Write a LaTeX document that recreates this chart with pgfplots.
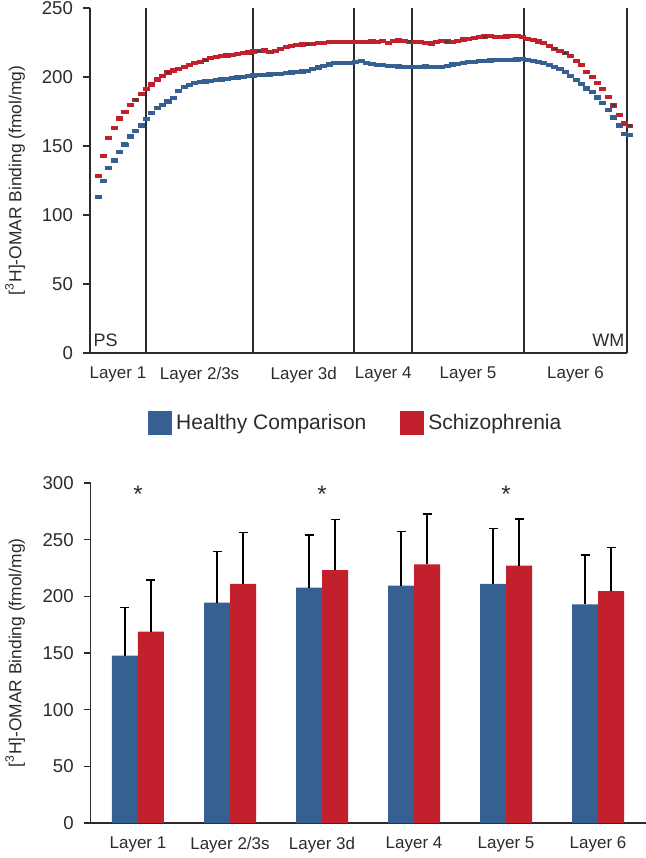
\documentclass[border=0pt]{standalone}
\usepackage{pgfplots}
\pgfplotsset{compat=1.18}
\usepackage{pgfplotstable}
\usepackage{fontspec}
\setmainfont{Liberation Sans}
\definecolor{hcblue}{HTML}{376092}
\definecolor{szred}{HTML}{C1202C}
\definecolor{txt}{HTML}{2B2B2B}

% depth profile: x = % cortical depth, hc = healthy, sz = schizophrenia
\pgfplotstableread{
x hc sz
1.5 113.3 128.5
2.5 125.0 143.0
3.5 134.0 156.0
4.5 139.5 163.0
5.5 146.0 170.0
6.5 151.0 175.0
7.5 157.0 180.0
8.5 161.0 183.5
9.5 165.0 188.0
10.5 169.8 191.3
11.5 174.0 194.7
12.5 177.7 198.2
13.5 180.0 200.8
14.5 182.3 203.3
15.5 185.0 204.8
16.5 190.0 206.0
17.5 192.8 207.4
18.5 194.1 208.7
19.5 195.9 210.0
20.5 196.4 211.0
21.5 196.8 212.2
22.5 197.2 214.0
23.5 197.8 214.8
24.5 198.3 215.3
25.5 198.8 215.6
26.5 199.3 216.0
27.5 199.8 216.5
28.5 200.2 217.2
29.5 200.7 217.8
30.5 201.1 218.5
31.5 201.4 218.8
32.5 201.7 219.3
33.5 202.0 218.0
34.5 202.3 219.0
35.5 202.5 220.5
36.5 202.9 221.8
37.5 203.3 222.8
38.5 203.7 223.3
39.5 204.1 223.6
40.5 204.7 223.9
41.5 205.6 224.2
42.5 207.0 224.5
43.5 208.3 225.0
44.5 209.2 225.5
45.5 210.0 225.6
46.5 210.4 225.6
47.5 210.4 225.6
48.5 210.4 225.6
49.5 211.0 225.6
50.5 211.6 225.6
51.5 210.5 225.6
52.5 209.5 225.8
53.5 208.8 225.5
54.5 208.5 226.0
55.5 208.2 225.0
56.5 208.0 226.3
57.5 207.6 226.6
58.5 207.4 226.0
59.5 207.2 225.6
60.5 207.2 225.6
61.5 207.5 225.6
62.5 207.7 225.0
63.5 207.6 224.4
64.5 207.5 225.3
65.5 207.5 226.3
66.5 208.3 225.8
67.5 209.1 225.4
68.5 209.7 226.3
69.5 210.2 227.3
70.5 210.7 227.8
71.5 211.1 228.3
72.5 211.4 228.8
73.5 211.7 229.4
74.5 212.0 229.7
75.5 212.3 229.2
76.5 212.3 228.8
77.5 212.3 229.5
78.5 212.5 230.0
79.5 212.8 229.8
80.5 213.0 229.0
81.5 212.5 227.8
82.5 211.9 226.8
83.5 211.0 225.8
84.5 210.2 224.5
85.5 209.0 222.6
86.5 207.3 220.6
87.5 205.6 219.0
88.5 203.9 217.2
89.5 200.8 215.2
90.5 198.1 211.6
91.5 194.8 208.5
92.5 191.8 203.9
93.5 189.2 200.2
94.5 185.3 195.9
95.5 181.3 191.3
96.5 176.0 185.7
97.5 170.6 179.5
98.5 165.0 172.7
99.5 158.5 166.4
100.5 158.0 164.7
}\profile

\begin{document}
\begin{tikzpicture}
\path[use as bounding box] (0,0) rectangle (323pt,-429pt);

% ---- top: laminar profile
\begin{axis}[
    at={(45pt,-176.5pt)}, anchor=south west,
    scale only axis, width=268.5pt, height=172.5pt,
    xmin=0, xmax=100, ymin=0, ymax=250, clip=false,
    axis x line=bottom, axis y line=left,
    axis line style={-, line width=0.6pt, txt},
    tick align=outside, major tick length=3.5pt,
    tick style={line width=0.6pt, txt},
    x tick style={draw=none},
    ytick={0,50,...,250},
    xtick={5.2,20.4,39.8,54.6,70.4,90.4},
    xticklabels={Layer 1, Layer 2/3s, Layer 3d, Layer 4, Layer 5, Layer 6},
    /pgf/number format/assume math mode=true,
    yticklabel style={font=\fontsize{9.3}{11}\selectfont, txt, xshift=-1.5pt},
    xticklabel style={font=\fontsize{8.5}{10}\selectfont, txt},
    ylabel={{[}\textsuperscript{3}H]-OMAR Binding (fmol/mg)},
    ylabel style={at={(axis description cs:-0.1397,0.5)}, anchor=center,
                  font=\fontsize{8.7}{10}\selectfont, txt},
    legend style={at={(0.497,-0.203)}, anchor=center, draw=none, fill=none,
                  legend columns=2, font=\fontsize{10.5}{12}\selectfont, text=txt,
                  /tikz/every even column/.append style={column sep=15pt}},
]
\addplot[ycomb, no marks, txt, line width=0.6pt, forget plot]
    coordinates {(10.43,250)(30.35,250)(49.16,250)(59.96,250)(80.82,250)(100,250)};
\addplot[only marks, mark=square*, hcblue, mark size=0.8pt,
         mark options={xscale=1.9, draw=none}, forget plot]
    table[x=x, y=hc] {\profile};
\addplot[only marks, mark=square*, szred, mark size=0.8pt,
         mark options={xscale=1.9, draw=none}, forget plot]
    table[x=x, y=sz] {\profile};
% open markers on healthy curve
\addplot[only marks, mark=square, mark size=0.9pt,
         mark options={xscale=1.7, fill=white, draw=hcblue, line width=0.5pt}, forget plot]
    coordinates {(3.5,134.0)(4.5,139.5)(6.5,151.0)(11.5,174.0)(20.5,196.4)(21.5,196.8)
                 (22.5,197.2)(27.5,199.8)(30.5,201.1)(33.5,202.0)(53.5,208.8)(57.5,207.6)
                 (62.5,207.7)(67.5,209.1)(75.5,212.3)(77.5,212.3)(94.5,185.3)(96.5,176.0)
                 (97.5,170.6)(100.5,158.0)};
% dark centres on schizophrenia curve
\addplot[only marks, mark=square*, black!75, mark size=0.5pt,
         mark options={xscale=1.6, draw=none}, forget plot]
    coordinates {(8.5,183.5)(14.5,203.3)(21.5,212.2)(31.5,218.8)(40.5,223.9)(59.5,225.6)
                 (66.5,225.8)(73.5,229.4)(86.5,220.6)(88.5,217.2)(97.5,179.5)(100.5,164.7)};
\node[anchor=base west, inner sep=0, font=\fontsize{9}{10}\selectfont, txt]
    at (axis cs:0.6,4.5) {PS};
\node[anchor=base east, inner sep=0, font=\fontsize{9}{10}\selectfont, txt]
    at (axis cs:99.6,4.5) {WM};
\addlegendimage{legend image code/.code={\fill[hcblue] (0pt,-5.75pt) rectangle (11.5pt,5.75pt);}}
\addlegendentry{Healthy Comparison}
\addlegendimage{legend image code/.code={\fill[szred] (0pt,-5.75pt) rectangle (11.5pt,5.75pt);}}
\addlegendentry{Schizophrenia}
\end{axis}

% ---- bottom: layer means with SD
\begin{axis}[
    at={(45.35pt,-411.5pt)}, anchor=south west,
    scale only axis, width=277.6pt, height=170pt,
    xmin=-0.514, xmax=5.52, ymin=0, ymax=300, clip=false,
    axis x line=bottom, axis y line=left,
    axis line style={-, line width=0.6pt, txt},
    tick align=outside, major tick length=3.5pt,
    tick style={line width=0.6pt, txt},
    x tick style={draw=none},
    ybar=0pt, bar width=13pt,
    ytick={0,50,...,300},
    xtick={0,...,5},
    xticklabels={Layer 1, Layer 2/3s, Layer 3d, Layer 4, Layer 5, Layer 6},
    /pgf/number format/assume math mode=true,
    yticklabel style={font=\fontsize{9.3}{11}\selectfont, txt, xshift=-1.5pt},
    xticklabel style={font=\fontsize{8.5}{10}\selectfont, txt},
    ylabel={{[}\textsuperscript{3}H]-OMAR Binding (fmol/mg)},
    ylabel style={at={(axis description cs:-0.136,0.5)}, anchor=center,
                  font=\fontsize{8.7}{10}\selectfont, txt},
    error bars/error bar style={line width=0.65pt, black},
    error bars/error mark options={rotate=90, black, line width=0.65pt, mark size=2.25pt},
]
\addplot[fill=hcblue, draw=none, error bars/.cd, y dir=plus, y explicit]
    coordinates {(0,147.6) +- (0,42.4) (1,194.4) +- (0,45.0) (2,207.6) +- (0,46.5)
                 (3,209.4) +- (0,48.0) (4,210.9) +- (0,49.1) (5,193.0) +- (0,43.5)};
\addplot[fill=szred, draw=none, error bars/.cd, y dir=plus, y explicit]
    coordinates {(0,168.8) +- (0,45.6) (1,210.9) +- (0,45.3) (2,223.2) +- (0,44.8)
                 (3,228.2) +- (0,44.4) (4,227.0) +- (0,41.2) (5,204.7) +- (0,38.6)};
\node[font=\fontsize{12}{13}\selectfont, txt] at (axis cs:0,290) {*};
\node[font=\fontsize{12}{13}\selectfont, txt] at (axis cs:2,290) {*};
\node[font=\fontsize{12}{13}\selectfont, txt] at (axis cs:4,290) {*};
\end{axis}
\end{tikzpicture}
\end{document}
